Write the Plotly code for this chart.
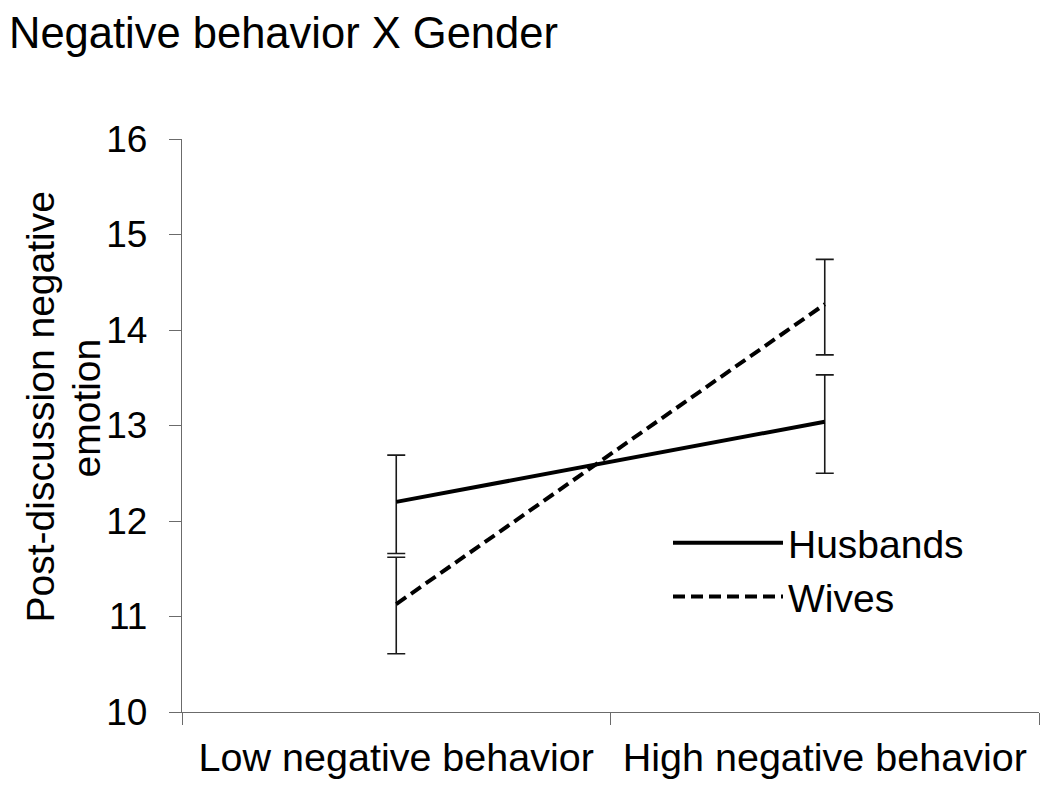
import plotly.graph_objects as go

categories = ["Low negative behavior", "High negative behavior"]
husbands = [12.20, 13.04]
husbands_err_plus = [0.49, 0.49]
husbands_err_minus = [0.54, 0.54]
wives = [11.13, 14.27]
wives_err_plus = [0.49, 0.47]
wives_err_minus = [0.52, 0.53]
y_ticks = [10, 11, 12, 13, 14, 15, 16]

FONT = "Liberation Sans, Arial, sans-serif"
AXIS_COLOR = "#6b6b6b"

# page body has an 8px margin: figure coords = screen coords - 8
OFF = 8
W, H = 1050 - OFF, 787 - 2 * OFF
PL, PR, PT, PB = 182, 1039, 139, 712  # plot area in screen pixels
PW, PH = PR - PL, PB - PT


def px(xs):
    return (xs - PL) / PW


def py(ys):
    return (PB - ys) / PH


fig = go.Figure()
fig.add_trace(go.Scatter(
    x=categories, y=husbands, name="Husbands", mode="lines",
    line=dict(color="black", width=4),
    error_y=dict(type="data", array=husbands_err_plus, arrayminus=husbands_err_minus,
                 symmetric=False, color="#1a1a1a", thickness=1.6, width=9),
))
fig.add_trace(go.Scatter(
    x=categories, y=wives, name="Wives", mode="lines",
    line=dict(color="black", width=4, dash="12px,6px"),
    error_y=dict(type="data", array=wives_err_plus, arrayminus=wives_err_minus,
                 symmetric=False, color="#1a1a1a", thickness=1.6, width=9),
))

fig.update_layout(
    width=W, height=H,
    margin=dict(l=PL - OFF, r=W - (PR - OFF), t=PT - OFF, b=H - (PB - OFF), autoexpand=False),
    paper_bgcolor="white", plot_bgcolor="white",
    font=dict(family=FONT, color="black", size=38),
    showlegend=True,
    legend=dict(x=px(668), xanchor="left", y=py(511), yanchor="top",
                bgcolor="rgba(0,0,0,0)", font=dict(size=39, family=FONT),
                itemwidth=110, tracegroupgap=0),
    xaxis=dict(type="category", range=[-0.5, 1.5], tickson="boundaries",
               showline=True, linecolor=AXIS_COLOR, linewidth=1.3,
               ticks="outside", ticklen=12, tickcolor=AXIS_COLOR, tickwidth=1.3,
               showgrid=False, zeroline=False, ticklabelstandoff=10,
               tickfont=dict(size=39.5, family=FONT, color="black")),
    yaxis=dict(range=[10, 16], tickvals=y_ticks,
               showline=True, linecolor=AXIS_COLOR, linewidth=1.3,
               ticks="outside", ticklen=12, tickcolor=AXIS_COLOR, tickwidth=1.3,
               showgrid=False, zeroline=False, ticklabelstandoff=14,
               tickfont=dict(size=37, family=FONT, color="black")),
    annotations=[
        dict(text="Negative behavior X Gender", xref="paper", yref="paper",
             x=px(OFF), y=py(OFF), xanchor="left", yanchor="top", showarrow=False,
             borderpad=0, font=dict(size=43.5, family=FONT, color="black")),
        dict(text="Post-discussion negative", textangle=-90,
             xref="paper", yref="paper", x=px(39.5), y=py(407),
             xanchor="center", yanchor="middle", showarrow=False,
             font=dict(size=39, family=FONT, color="black")),
        dict(text="emotion", textangle=-90,
             xref="paper", yref="paper", x=px(85.5), y=py(408),
             xanchor="center", yanchor="middle", showarrow=False,
             font=dict(size=39, family=FONT, color="black")),
    ],
)

fig.write_html("out.html")
